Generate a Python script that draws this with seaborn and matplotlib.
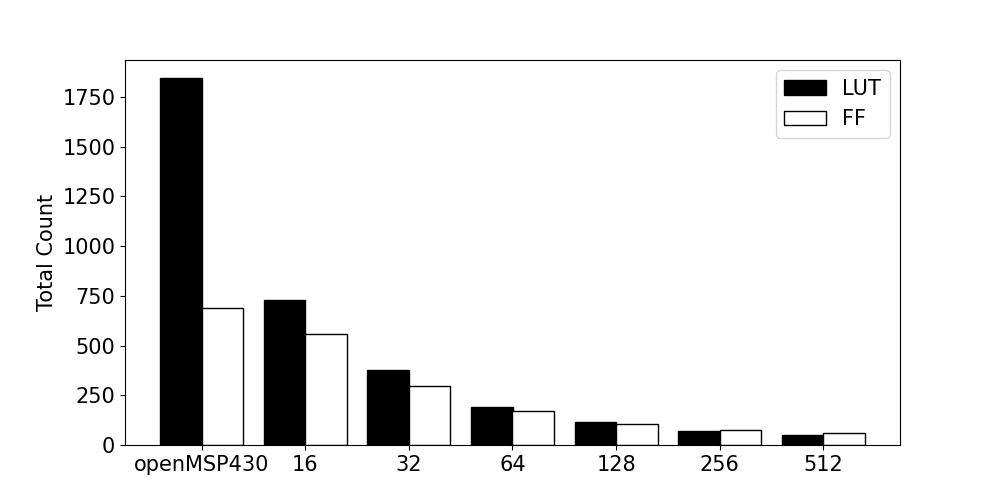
import pandas as pd
import seaborn as sns
import matplotlib
matplotlib.use("Agg")
import matplotlib.pyplot as plt

# データ
configs = ["openMSP430", "16", "32", "64", "128", "256", "512"]
lut = [1844, 727, 376, 190, 115, 70, 50]
ff = [690, 560, 299, 169, 104, 74, 59]

df = pd.DataFrame({
    "config": configs * 2,
    "count": lut + ff,
    "type": ["LUT"] * len(configs) + ["FF"] * len(configs),
})

plt.rcParams["font.family"] = ["DejaVu Sans"]
plt.rcParams["font.size"] = 15

fig, ax = plt.subplots(figsize=(10, 5), dpi=100)
sns.barplot(data=df, x="config", y="count", hue="type", order=configs,
            palette=["black", "white"], edgecolor="black", saturation=1,
            linewidth=1, width=0.8, ax=ax)

ax.set_xlim(-0.74, 6.74)
ax.set_xlabel("")
ax.set_ylabel("Total Count")
ax.tick_params(labelsize=15)
ax.legend(title=None, fontsize=15, loc="upper right")

plt.savefig("out.png", dpi=100)
